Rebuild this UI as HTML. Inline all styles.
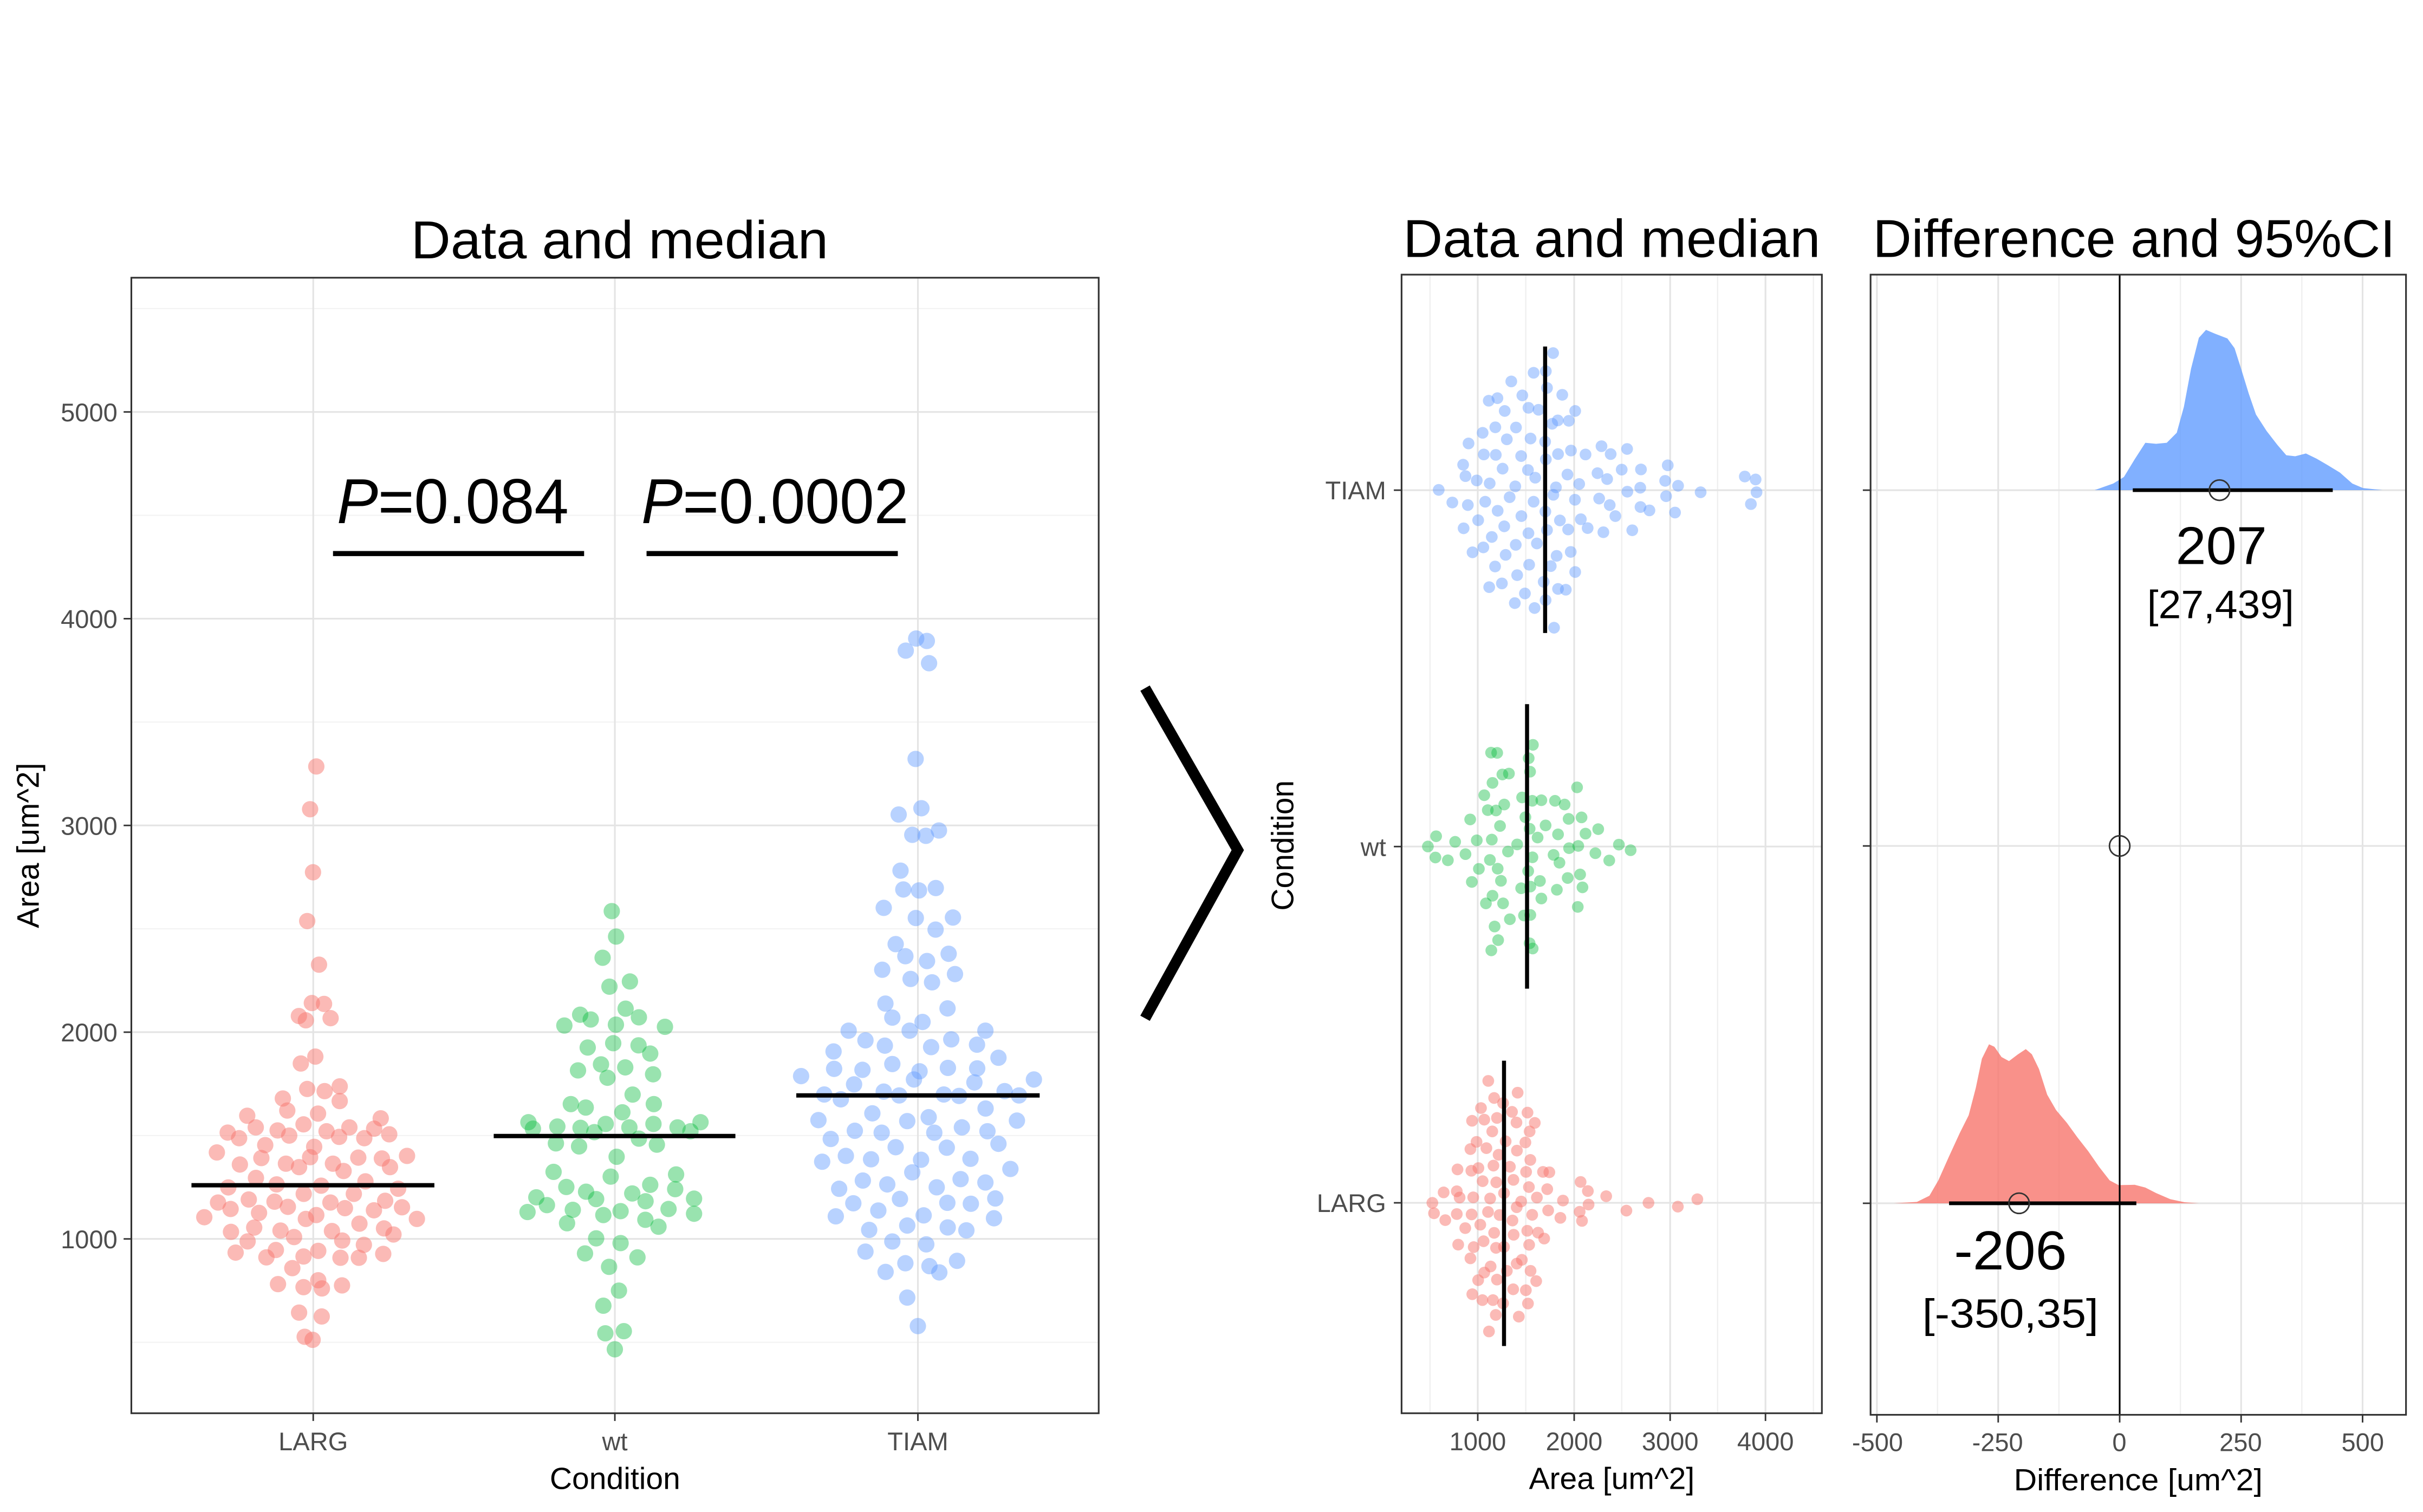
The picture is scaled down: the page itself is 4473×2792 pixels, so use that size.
<!DOCTYPE html>
<html><head><meta charset="utf-8"><style>
html,body{margin:0;padding:0;background:#fff;width:4473px;height:2792px;overflow:hidden}
svg{display:block}
text{font-family:"Liberation Sans",Arial,sans-serif}
.tk{font-size:16.5px;fill:#4d4d4d}
.at{font-size:20px;fill:#000}
.ti{font-size:34.5px;fill:#000}
</style></head><body>
<svg width="4473" height="2792" viewBox="0 0 1568 980" preserveAspectRatio="none">
<defs>
<ellipse id="e5" rx="42.3" ry="18.9"/>
<ellipse id="e6" rx="45.6" ry="18.9"/>
<ellipse id="e7" rx="43.9" ry="16.9"/>
<ellipse id="e8" rx="25" ry="29.8"/>
<ellipse id="e9" rx="25" ry="31.4"/>
<ellipse id="e10" rx="25" ry="30.9"/>
</defs>
<rect x="0" y="0" width="1568" height="980" fill="#fff"/>

<!-- ================= LEFT PANEL ================= -->
<text class="ti" x="266" y="167.5" textLength="270" lengthAdjust="spacingAndGlyphs">Data and median</text>
<g stroke="#f2f2f2" stroke-width="0.7">
<line x1="85" x2="711" y1="200" y2="200"/><line x1="85" x2="711" y1="334" y2="334"/><line x1="85" x2="711" y1="468" y2="468"/>
<line x1="85" x2="711" y1="602" y2="602"/><line x1="85" x2="711" y1="736" y2="736"/><line x1="85" x2="711" y1="870" y2="870"/>
</g>
<g stroke="#e4e4e4" stroke-width="1.1">
<line x1="85" x2="711" y1="267" y2="267"/><line x1="85" x2="711" y1="401" y2="401"/><line x1="85" x2="711" y1="535" y2="535"/>
<line x1="85" x2="711" y1="669" y2="669"/><line x1="85" x2="711" y1="803" y2="803"/>
<line x1="202.7" x2="202.7" y1="180" y2="916"/><line x1="397.9" x2="397.9" y1="180" y2="916"/><line x1="594" x2="594" y1="180" y2="916"/>
</g>

<g transform="matrix(0.12519 0 0 0.27982 105.16 473.85)" fill="#F8766D" fill-opacity="0.5">
<use href="#e5" x="795" y="82"/><use href="#e5" x="763" y="181"/><use href="#e5" x="778" y="327"/><use href="#e5" x="748" y="440"/><use href="#e5" x="809" y="541"/><use href="#e5" x="772" y="630"/><use href="#e5" x="835" y="632"/><use href="#e5" x="705" y="660"/><use href="#e5" x="741" y="670"/><use href="#e5" x="869" y="665"/><use href="#e5" x="715" y="770"/><use href="#e5" x="790" y="754"/><use href="#e5" x="748" y="829"/><use href="#e5" x="838" y="834"/><use href="#e5" x="916" y="823"/><use href="#e5" x="916" y="857"/><use href="#e5" x="622" y="851"/><use href="#e5" x="645" y="879"/><use href="#e5" x="804" y="886"/><use href="#e5" x="438" y="891"/><use href="#e5" x="482" y="918"/><use href="#e5" x="337" y="930"/><use href="#e5" x="396" y="943"/><use href="#e5" x="595" y="925"/><use href="#e5" x="655" y="937"/><use href="#e5" x="729" y="911"/><use href="#e5" x="848" y="927"/><use href="#e5" x="913" y="940"/><use href="#e5" x="966" y="918"/><use href="#e5" x="1043" y="943"/><use href="#e5" x="1094" y="921"/><use href="#e5" x="1128" y="897"/><use href="#e5" x="1172" y="934"/><use href="#e5" x="281" y="976"/><use href="#e5" x="531" y="959"/><use href="#e5" x="511" y="989"/><use href="#e5" x="784" y="963"/><use href="#e5" x="763" y="987"/><use href="#e5" x="400" y="1004"/><use href="#e5" x="638" y="1002"/><use href="#e5" x="706" y="1010"/><use href="#e5" x="881" y="1002"/><use href="#e5" x="936" y="1019"/><use href="#e5" x="1012" y="988"/><use href="#e5" x="1134" y="990"/><use href="#e5" x="1176" y="1010"/><use href="#e5" x="1264" y="984"/><use href="#e5" x="483" y="1035"/><use href="#e5" x="340" y="1057"/><use href="#e5" x="590" y="1050"/><use href="#e5" x="820" y="1053"/><use href="#e5" x="1049" y="1043"/><use href="#e5" x="1218" y="1060"/><use href="#e5" x="989" y="1072"/><use href="#e5" x="730" y="1072"/><use href="#e5" x="287" y="1092"/><use href="#e5" x="352" y="1107"/><use href="#e5" x="446" y="1085"/><use href="#e5" x="579" y="1090"/><use href="#e5" x="648" y="1102"/><use href="#e5" x="868" y="1092"/><use href="#e5" x="943" y="1105"/><use href="#e5" x="1093" y="1110"/><use href="#e5" x="1151" y="1088"/><use href="#e5" x="1238" y="1103"/><use href="#e5" x="216" y="1126"/><use href="#e5" x="499" y="1116"/><use href="#e5" x="741" y="1130"/><use href="#e5" x="795" y="1121"/><use href="#e5" x="1315" y="1130"/><use href="#e5" x="354" y="1160"/><use href="#e5" x="474" y="1150"/><use href="#e5" x="610" y="1157"/><use href="#e5" x="680" y="1172"/><use href="#e5" x="876" y="1158"/><use href="#e5" x="929" y="1180"/><use href="#e5" x="1018" y="1141"/><use href="#e5" x="1145" y="1152"/><use href="#e5" x="1194" y="1166"/><use href="#e5" x="440" y="1182"/><use href="#e5" x="378" y="1208"/><use href="#e5" x="586" y="1202"/><use href="#e5" x="537" y="1219"/><use href="#e5" x="729" y="1217"/><use href="#e5" x="805" y="1204"/><use href="#e5" x="920" y="1220"/><use href="#e5" x="1015" y="1220"/><use href="#e5" x="1041" y="1190"/><use href="#e5" x="1141" y="1211"/><use href="#e5" x="671" y="1244"/><use href="#e5" x="597" y="1281"/><use href="#e5" x="729" y="1288"/><use href="#e5" x="805" y="1272"/><use href="#e5" x="824" y="1291"/><use href="#e5" x="928" y="1284"/><use href="#e5" x="706" y="1347"/><use href="#e5" x="823" y="1356"/><use href="#e5" x="735" y="1403"/><use href="#e5" x="776" y="1410"/>
</g>

<g transform="matrix(0.11625 0 0 0.27982 308.48 473.85)" fill="#00BA38" fill-opacity="0.4">
<use href="#e6" x="752" y="417"/><use href="#e6" x="776" y="476"/><use href="#e6" x="701" y="525"/><use href="#e6" x="739" y="592"/><use href="#e6" x="853" y="580"/><use href="#e6" x="829" y="643"/><use href="#e6" x="576" y="657"/><use href="#e6" x="635" y="668"/><use href="#e6" x="488" y="682"/><use href="#e6" x="775" y="680"/><use href="#e6" x="903" y="663"/><use href="#e6" x="1048" y="685"/><use href="#e6" x="618" y="733"/><use href="#e6" x="760" y="723"/><use href="#e6" x="901" y="728"/><use href="#e6" x="966" y="747"/><use href="#e6" x="692" y="772"/><use href="#e6" x="728" y="803"/><use href="#e6" x="564" y="786"/><use href="#e6" x="827" y="779"/><use href="#e6" x="982" y="795"/><use href="#e6" x="868" y="842"/><use href="#e6" x="524" y="864"/><use href="#e6" x="607" y="872"/><use href="#e6" x="811" y="883"/><use href="#e6" x="986" y="864"/><use href="#e6" x="288" y="906"/><use href="#e6" x="313" y="921"/><use href="#e6" x="449" y="916"/><use href="#e6" x="578" y="919"/><use href="#e6" x="655" y="929"/><use href="#e6" x="718" y="910"/><use href="#e6" x="850" y="918"/><use href="#e6" x="984" y="910"/><use href="#e6" x="1118" y="918"/><use href="#e6" x="1190" y="927"/><use href="#e6" x="1246" y="906"/><use href="#e6" x="441" y="955"/><use href="#e6" x="570" y="962"/><use href="#e6" x="903" y="944"/><use href="#e6" x="1003" y="958"/><use href="#e6" x="779" y="986"/><use href="#e6" x="428" y="1021"/><use href="#e6" x="746" y="1032"/><use href="#e6" x="1110" y="1027"/><use href="#e6" x="499" y="1056"/><use href="#e6" x="609" y="1067"/><use href="#e6" x="665" y="1084"/><use href="#e6" x="866" y="1071"/><use href="#e6" x="966" y="1051"/><use href="#e6" x="1105" y="1061"/><use href="#e6" x="332" y="1080"/><use href="#e6" x="391" y="1098"/><use href="#e6" x="283" y="1114"/><use href="#e6" x="535" y="1109"/><use href="#e6" x="940" y="1089"/><use href="#e6" x="1210" y="1083"/><use href="#e6" x="503" y="1140"/><use href="#e6" x="705" y="1121"/><use href="#e6" x="801" y="1112"/><use href="#e6" x="939" y="1132"/><use href="#e6" x="1068" y="1107"/><use href="#e6" x="1012" y="1148"/><use href="#e6" x="1210" y="1118"/><use href="#e6" x="665" y="1175"/><use href="#e6" x="801" y="1186"/><use href="#e6" x="603" y="1210"/><use href="#e6" x="895" y="1219"/><use href="#e6" x="737" y="1241"/><use href="#e6" x="792" y="1296"/><use href="#e6" x="705" y="1331"/><use href="#e6" x="716" y="1395"/><use href="#e6" x="819" y="1390"/><use href="#e6" x="769" y="1432"/>
</g>

<g transform="matrix(0.12072 0 0 0.31339 497.77 396.63)" fill="#619CFF" fill-opacity="0.45">
<use href="#e7" x="788" y="55"/><use href="#e7" x="845" y="60"/><use href="#e7" x="732" y="80"/><use href="#e7" x="857" y="106"/><use href="#e7" x="785" y="304"/><use href="#e7" x="816" y="406"/><use href="#e7" x="694" y="419"/><use href="#e7" x="767" y="461"/><use href="#e7" x="840" y="463"/><use href="#e7" x="910" y="452"/><use href="#e7" x="704" y="535"/><use href="#e7" x="719" y="574"/><use href="#e7" x="803" y="576"/><use href="#e7" x="893" y="571"/><use href="#e7" x="614" y="612"/><use href="#e7" x="786" y="633"/><use href="#e7" x="985" y="632"/><use href="#e7" x="892" y="657"/><use href="#e7" x="678" y="687"/><use href="#e7" x="730" y="712"/><use href="#e7" x="846" y="722"/><use href="#e7" x="962" y="707"/><use href="#e7" x="606" y="740"/><use href="#e7" x="758" y="759"/><use href="#e7" x="873" y="766"/><use href="#e7" x="996" y="749"/><use href="#e7" x="623" y="810"/><use href="#e7" x="660" y="839"/><use href="#e7" x="822" y="848"/><use href="#e7" x="956" y="820"/><use href="#e7" x="426" y="866"/><use href="#e7" x="516" y="886"/><use href="#e7" x="753" y="866"/><use href="#e7" x="345" y="909"/><use href="#e7" x="620" y="897"/><use href="#e7" x="868" y="900"/><use href="#e7" x="976" y="884"/><use href="#e7" x="1114" y="895"/><use href="#e7" x="1159" y="866"/><use href="#e7" x="348" y="945"/><use href="#e7" x="500" y="947"/><use href="#e7" x="660" y="935"/><use href="#e7" x="806" y="950"/><use href="#e7" x="958" y="943"/><use href="#e7" x="1115" y="944"/><use href="#e7" x="1229" y="922"/><use href="#e7" x="171" y="960"/><use href="#e7" x="455" y="977"/><use href="#e7" x="776" y="967"/><use href="#e7" x="1100" y="973"/><use href="#e7" x="1419" y="967"/><use href="#e7" x="295" y="998"/><use href="#e7" x="384" y="1008"/><use href="#e7" x="614" y="992"/><use href="#e7" x="697" y="1000"/><use href="#e7" x="936" y="998"/><use href="#e7" x="1018" y="1001"/><use href="#e7" x="1262" y="991"/><use href="#e7" x="1339" y="1000"/><use href="#e7" x="264" y="1051"/><use href="#e7" x="553" y="1037"/><use href="#e7" x="740" y="1053"/><use href="#e7" x="855" y="1045"/><use href="#e7" x="1160" y="1027"/><use href="#e7" x="1328" y="1052"/><use href="#e7" x="330" y="1090"/><use href="#e7" x="459" y="1073"/><use href="#e7" x="603" y="1077"/><use href="#e7" x="885" y="1077"/><use href="#e7" x="1033" y="1066"/><use href="#e7" x="1170" y="1074"/><use href="#e7" x="678" y="1107"/><use href="#e7" x="952" y="1108"/><use href="#e7" x="1229" y="1100"/><use href="#e7" x="284" y="1137"/><use href="#e7" x="411" y="1125"/><use href="#e7" x="546" y="1132"/><use href="#e7" x="814" y="1133"/><use href="#e7" x="767" y="1159"/><use href="#e7" x="1079" y="1131"/><use href="#e7" x="1293" y="1152"/><use href="#e7" x="375" y="1193"/><use href="#e7" x="502" y="1176"/><use href="#e7" x="633" y="1184"/><use href="#e7" x="898" y="1190"/><use href="#e7" x="1026" y="1173"/><use href="#e7" x="1159" y="1180"/><use href="#e7" x="451" y="1223"/><use href="#e7" x="701" y="1214"/><use href="#e7" x="955" y="1222"/><use href="#e7" x="1081" y="1224"/><use href="#e7" x="1212" y="1213"/><use href="#e7" x="357" y="1250"/><use href="#e7" x="585" y="1238"/><use href="#e7" x="828" y="1248"/><use href="#e7" x="536" y="1278"/><use href="#e7" x="740" y="1269"/><use href="#e7" x="957" y="1273"/><use href="#e7" x="1057" y="1279"/><use href="#e7" x="1205" y="1254"/><use href="#e7" x="660" y="1302"/><use href="#e7" x="842" y="1308"/><use href="#e7" x="516" y="1323"/><use href="#e7" x="624" y="1365"/><use href="#e7" x="730" y="1347"/><use href="#e7" x="859" y="1353"/><use href="#e7" x="912" y="1366"/><use href="#e7" x="1007" y="1342"/><use href="#e7" x="740" y="1418"/><use href="#e7" x="797" y="1477"/>
</g>

<g stroke="#000" stroke-width="2.8">
<line x1="123.9" x2="281.1" y1="768.2" y2="768.2"/>
<line x1="319.5" x2="475.9" y1="736.3" y2="736.3"/>
<line x1="515.3" x2="672.8" y1="710" y2="710"/>
</g>
<rect x="85" y="180" width="626" height="736" fill="none" stroke="#333" stroke-width="1.1"/>
<g stroke="#333" stroke-width="1">
<line x1="80" x2="85" y1="267" y2="267"/><line x1="80" x2="85" y1="401" y2="401"/><line x1="80" x2="85" y1="535" y2="535"/><line x1="80" x2="85" y1="669" y2="669"/><line x1="80" x2="85" y1="803" y2="803"/>
<line x1="202.7" x2="202.7" y1="916" y2="921"/><line x1="397.9" x2="397.9" y1="916" y2="921"/><line x1="594" x2="594" y1="916" y2="921"/>
</g>
<g class="tk" text-anchor="end">
<text x="76" y="273">5000</text><text x="76" y="407">4000</text><text x="76" y="541">3000</text><text x="76" y="675">2000</text><text x="76" y="809">1000</text>
</g>
<g class="tk" text-anchor="middle">
<text x="202.7" y="940">LARG</text><text x="397.9" y="940">wt</text><text x="594" y="940">TIAM</text>
</g>
<text class="at" x="398" y="965" text-anchor="middle">Condition</text>
<text class="at" transform="translate(25,548) rotate(-90)" text-anchor="middle">Area [um^2]</text>

<text x="218" y="339" font-size="41" textLength="150" lengthAdjust="spacingAndGlyphs"><tspan font-style="italic">P</tspan>=0.084</text>
<text x="415" y="339" font-size="41" textLength="173" lengthAdjust="spacingAndGlyphs"><tspan font-style="italic">P</tspan>=0.0002</text>
<line x1="215.5" x2="378" y1="358.8" y2="358.8" stroke="#000" stroke-width="3.3"/>
<line x1="418.4" x2="581" y1="358.8" y2="358.8" stroke="#000" stroke-width="3.3"/>

<!-- chevron -->
<polyline points="741,446 801,551 741,660" fill="none" stroke="#000" stroke-width="7" stroke-linejoin="miter" stroke-miterlimit="10"/>

<!-- ================= MIDDLE PANEL ================= -->
<text class="ti" x="908" y="166.5" textLength="270" lengthAdjust="spacingAndGlyphs">Data and median</text>
<g stroke="#efefef" stroke-width="0.8">
<line y1="178" y2="916" x1="925.4" x2="925.4"/><line y1="178" y2="916" x1="987.4" x2="987.4"/><line y1="178" y2="916" x1="1049.5" x2="1049.5"/><line y1="178" y2="916" x1="1111.5" x2="1111.5"/><line y1="178" y2="916" x1="1173.5" x2="1173.5"/>
</g>
<g stroke="#e4e4e4" stroke-width="1.1">
<line y1="178" y2="916" x1="956.3" x2="956.3"/><line y1="178" y2="916" x1="1018.7" x2="1018.7"/><line y1="178" y2="916" x1="1080.8" x2="1080.8"/><line y1="178" y2="916" x1="1142.5" x2="1142.5"/>
<line x1="907" x2="1179" y1="317.7" y2="317.7"/><line x1="907" x2="1179" y1="548.7" y2="548.7"/><line x1="907" x2="1179" y1="779.6" y2="779.6"/>
</g>

<g transform="matrix(0.15202 0 0 0.1276 911.42 217.62)" fill="#619CFF" fill-opacity="0.45">
<use href="#e8" x="616" y="88"/><use href="#e8" x="533" y="188"/><use href="#e8" x="585" y="180"/><use href="#e8" x="438" y="232"/><use href="#e8" x="590" y="265"/><use href="#e8" x="485" y="303"/><use href="#e8" x="655" y="300"/><use href="#e8" x="342" y="330"/><use href="#e8" x="379" y="317"/><use href="#e8" x="410" y="382"/><use href="#e8" x="511" y="366"/><use href="#e8" x="554" y="376"/><use href="#e8" x="710" y="382"/><use href="#e8" x="612" y="447"/><use href="#e8" x="636" y="430"/><use href="#e8" x="683" y="432"/><use href="#e8" x="316" y="493"/><use href="#e8" x="370" y="465"/><use href="#e8" x="458" y="466"/><use href="#e8" x="419" y="526"/><use href="#e8" x="520" y="522"/><use href="#e8" x="582" y="538"/><use href="#e8" x="256" y="547"/><use href="#e8" x="822" y="561"/><use href="#e8" x="931" y="575"/><use href="#e8" x="321" y="603"/><use href="#e8" x="372" y="605"/><use href="#e8" x="480" y="611"/><use href="#e8" x="585" y="628"/><use href="#e8" x="637" y="601"/><use href="#e8" x="692" y="583"/><use href="#e8" x="754" y="603"/><use href="#e8" x="861" y="601"/><use href="#e8" x="233" y="655"/><use href="#e8" x="401" y="675"/><use href="#e8" x="509" y="682"/><use href="#e8" x="1104" y="658"/><use href="#e8" x="243" y="713"/><use href="#e8" x="291" y="735"/><use href="#e8" x="346" y="750"/><use href="#e8" x="540" y="721"/><use href="#e8" x="677" y="705"/><use href="#e8" x="805" y="698"/><use href="#e8" x="846" y="728"/><use href="#e8" x="908" y="680"/><use href="#e8" x="990" y="679"/><use href="#e8" x="1432" y="715"/><use href="#e8" x="1478" y="730"/><use href="#e8" x="129" y="783"/><use href="#e8" x="455" y="765"/><use href="#e8" x="628" y="770"/><use href="#e8" x="727" y="753"/><use href="#e8" x="1093" y="737"/><use href="#e8" x="1148" y="762"/><use href="#e8" x="932" y="792"/><use href="#e8" x="987" y="772"/><use href="#e8" x="1244" y="795"/><use href="#e8" x="1482" y="795"/><use href="#e8" x="187" y="847"/><use href="#e8" x="253" y="860"/><use href="#e8" x="327" y="843"/><use href="#e8" x="431" y="820"/><use href="#e8" x="533" y="843"/><use href="#e8" x="617" y="808"/><use href="#e8" x="709" y="833"/><use href="#e8" x="812" y="827"/><use href="#e8" x="857" y="860"/><use href="#e8" x="1097" y="815"/><use href="#e8" x="1458" y="855"/><use href="#e8" x="380" y="889"/><use href="#e8" x="583" y="893"/><use href="#e8" x="881" y="916"/><use href="#e8" x="988" y="870"/><use href="#e8" x="1026" y="887"/><use href="#e8" x="1135" y="898"/><use href="#e8" x="297" y="937"/><use href="#e8" x="481" y="916"/><use href="#e8" x="645" y="938"/><use href="#e8" x="734" y="932"/><use href="#e8" x="235" y="978"/><use href="#e8" x="408" y="968"/><use href="#e8" x="511" y="1003"/><use href="#e8" x="590" y="987"/><use href="#e8" x="680" y="984"/><use href="#e8" x="763" y="977"/><use href="#e8" x="830" y="998"/><use href="#e8" x="953" y="988"/><use href="#e8" x="355" y="1022"/><use href="#e8" x="547" y="1055"/><use href="#e8" x="319" y="1075"/><use href="#e8" x="273" y="1100"/><use href="#e8" x="457" y="1062"/><use href="#e8" x="414" y="1113"/><use href="#e8" x="631" y="1118"/><use href="#e8" x="691" y="1098"/><use href="#e8" x="369" y="1172"/><use href="#e8" x="514" y="1163"/><use href="#e8" x="606" y="1170"/><use href="#e8" x="710" y="1200"/><use href="#e8" x="463" y="1216"/><use href="#e8" x="344" y="1277"/><use href="#e8" x="398" y="1258"/><use href="#e8" x="576" y="1250"/><use href="#e8" x="637" y="1286"/><use href="#e8" x="670" y="1290"/><use href="#e8" x="496" y="1309"/><use href="#e8" x="453" y="1358"/><use href="#e8" x="537" y="1383"/><use href="#e8" x="584" y="1343"/><use href="#e8" x="620" y="1483"/>
</g>

<g transform="matrix(0.15202 0 0 0.12088 911.42 452.79)" fill="#00BA38" fill-opacity="0.4">
<use href="#e9" x="530" y="248"/><use href="#e9" x="352" y="290"/><use href="#e9" x="378" y="291"/><use href="#e9" x="512" y="320"/><use href="#e9" x="518" y="392"/><use href="#e9" x="400" y="407"/><use href="#e9" x="428" y="402"/><use href="#e9" x="358" y="452"/><use href="#e9" x="718" y="476"/><use href="#e9" x="323" y="518"/><use href="#e9" x="484" y="530"/><use href="#e9" x="527" y="548"/><use href="#e9" x="566" y="545"/><use href="#e9" x="624" y="548"/><use href="#e9" x="665" y="568"/><use href="#e9" x="338" y="598"/><use href="#e9" x="373" y="600"/><use href="#e9" x="408" y="568"/><use href="#e9" x="498" y="636"/><use href="#e9" x="263" y="648"/><use href="#e9" x="682" y="645"/><use href="#e9" x="737" y="637"/><use href="#e9" x="390" y="683"/><use href="#e9" x="516" y="698"/><use href="#e9" x="584" y="680"/><use href="#e9" x="118" y="738"/><use href="#e9" x="199" y="768"/><use href="#e9" x="291" y="760"/><use href="#e9" x="355" y="756"/><use href="#e9" x="550" y="745"/><use href="#e9" x="637" y="728"/><use href="#e9" x="754" y="724"/><use href="#e9" x="808" y="700"/><use href="#e9" x="83" y="793"/><use href="#e9" x="463" y="782"/><use href="#e9" x="684" y="802"/><use href="#e9" x="723" y="790"/><use href="#e9" x="896" y="783"/><use href="#e9" x="946" y="813"/><use href="#e9" x="115" y="852"/><use href="#e9" x="168" y="867"/><use href="#e9" x="243" y="834"/><use href="#e9" x="424" y="820"/><use href="#e9" x="528" y="851"/><use href="#e9" x="618" y="838"/><use href="#e9" x="796" y="829"/><use href="#e9" x="855" y="868"/><use href="#e9" x="347" y="865"/><use href="#e9" x="643" y="880"/><use href="#e9" x="300" y="913"/><use href="#e9" x="380" y="912"/><use href="#e9" x="510" y="925"/><use href="#e9" x="270" y="983"/><use href="#e9" x="394" y="977"/><use href="#e9" x="560" y="978"/><use href="#e9" x="678" y="962"/><use href="#e9" x="731" y="943"/><use href="#e9" x="480" y="1017"/><use href="#e9" x="519" y="1008"/><use href="#e9" x="632" y="1025"/><use href="#e9" x="741" y="1012"/><use href="#e9" x="358" y="1057"/><use href="#e9" x="330" y="1098"/><use href="#e9" x="403" y="1098"/><use href="#e9" x="566" y="1072"/><use href="#e9" x="721" y="1117"/><use href="#e9" x="432" y="1183"/><use href="#e9" x="492" y="1163"/><use href="#e9" x="519" y="1160"/><use href="#e9" x="367" y="1222"/><use href="#e9" x="382" y="1295"/><use href="#e9" x="516" y="1312"/><use href="#e9" x="529" y="1340"/><use href="#e9" x="353" y="1350"/>
</g>

<g transform="matrix(0.15202 0 0 0.12312 911.42 684.45)" fill="#F8766D" fill-opacity="0.5">
<use href="#e10" x="340" y="131"/><use href="#e10" x="465" y="193"/><use href="#e10" x="365" y="221"/><use href="#e10" x="403" y="248"/><use href="#e10" x="309" y="274"/><use href="#e10" x="441" y="294"/><use href="#e10" x="507" y="298"/><use href="#e10" x="271" y="341"/><use href="#e10" x="323" y="335"/><use href="#e10" x="377" y="326"/><use href="#e10" x="460" y="350"/><use href="#e10" x="538" y="352"/><use href="#e10" x="357" y="397"/><use href="#e10" x="516" y="397"/><use href="#e10" x="290" y="452"/><use href="#e10" x="414" y="449"/><use href="#e10" x="498" y="455"/><use href="#e10" x="264" y="490"/><use href="#e10" x="332" y="485"/><use href="#e10" x="462" y="498"/><use href="#e10" x="384" y="520"/><use href="#e10" x="519" y="547"/><use href="#e10" x="209" y="597"/><use href="#e10" x="268" y="604"/><use href="#e10" x="298" y="590"/><use href="#e10" x="362" y="577"/><use href="#e10" x="432" y="583"/><use href="#e10" x="501" y="610"/><use href="#e10" x="573" y="610"/><use href="#e10" x="600" y="612"/><use href="#e10" x="316" y="659"/><use href="#e10" x="374" y="665"/><use href="#e10" x="447" y="652"/><use href="#e10" x="733" y="663"/><use href="#e10" x="150" y="718"/><use href="#e10" x="206" y="712"/><use href="#e10" x="218" y="745"/><use href="#e10" x="276" y="744"/><use href="#e10" x="348" y="750"/><use href="#e10" x="407" y="722"/><use href="#e10" x="513" y="690"/><use href="#e10" x="591" y="701"/><use href="#e10" x="547" y="745"/><use href="#e10" x="764" y="711"/><use href="#e10" x="842" y="738"/><use href="#e10" x="102" y="773"/><use href="#e10" x="480" y="766"/><use href="#e10" x="461" y="796"/><use href="#e10" x="658" y="761"/><use href="#e10" x="767" y="782"/><use href="#e10" x="1022" y="773"/><use href="#e10" x="1147" y="793"/><use href="#e10" x="1230" y="754"/><use href="#e10" x="109" y="828"/><use href="#e10" x="157" y="864"/><use href="#e10" x="206" y="832"/><use href="#e10" x="269" y="834"/><use href="#e10" x="339" y="821"/><use href="#e10" x="388" y="837"/><use href="#e10" x="443" y="866"/><use href="#e10" x="527" y="836"/><use href="#e10" x="595" y="813"/><use href="#e10" x="647" y="852"/><use href="#e10" x="729" y="820"/><use href="#e10" x="739" y="868"/><use href="#e10" x="928" y="814"/><use href="#e10" x="242" y="906"/><use href="#e10" x="306" y="888"/><use href="#e10" x="365" y="931"/><use href="#e10" x="448" y="941"/><use href="#e10" x="506" y="920"/><use href="#e10" x="552" y="930"/><use href="#e10" x="578" y="961"/><use href="#e10" x="212" y="993"/><use href="#e10" x="278" y="1006"/><use href="#e10" x="320" y="975"/><use href="#e10" x="373" y="1010"/><use href="#e10" x="407" y="1005"/><use href="#e10" x="514" y="994"/><use href="#e10" x="264" y="1065"/><use href="#e10" x="483" y="1073"/><use href="#e10" x="461" y="1093"/><use href="#e10" x="350" y="1108"/><use href="#e10" x="323" y="1140"/><use href="#e10" x="419" y="1131"/><use href="#e10" x="520" y="1131"/><use href="#e10" x="297" y="1180"/><use href="#e10" x="377" y="1177"/><use href="#e10" x="544" y="1185"/><use href="#e10" x="272" y="1254"/><use href="#e10" x="446" y="1228"/><use href="#e10" x="500" y="1233"/><use href="#e10" x="315" y="1285"/><use href="#e10" x="360" y="1285"/><use href="#e10" x="403" y="1302"/><use href="#e10" x="509" y="1303"/><use href="#e10" x="372" y="1363"/><use href="#e10" x="470" y="1372"/><use href="#e10" x="343" y="1450"/>
</g>

<g stroke="#000" stroke-width="2.6">
<line x1="999.9" x2="999.9" y1="224.6" y2="410.3"/>
<line x1="988.2" x2="988.2" y1="456.4" y2="640.8"/>
<line x1="973.3" x2="973.3" y1="687.5" y2="872.4"/>
</g>
<rect x="907" y="178" width="272" height="738" fill="none" stroke="#333" stroke-width="1.1"/>
<g stroke="#333" stroke-width="1">
<line x1="902" x2="907" y1="317.7" y2="317.7"/><line x1="902" x2="907" y1="548.7" y2="548.7"/><line x1="902" x2="907" y1="779.6" y2="779.6"/>
<line x1="956.3" x2="956.3" y1="916" y2="921"/><line x1="1018.7" x2="1018.7" y1="916" y2="921"/><line x1="1080.8" x2="1080.8" y1="916" y2="921"/><line x1="1142.5" x2="1142.5" y1="916" y2="921"/>
</g>
<g class="tk" text-anchor="end">
<text x="897" y="323.7">TIAM</text><text x="897" y="554.7">wt</text><text x="897" y="785.6">LARG</text>
</g>
<g class="tk" text-anchor="middle">
<text x="956.3" y="940">1000</text><text x="1018.7" y="940">2000</text><text x="1080.8" y="940">3000</text><text x="1142.5" y="940">4000</text>
</g>
<text class="at" x="1043" y="965" text-anchor="middle">Area [um^2]</text>
<text class="at" transform="translate(837,548) rotate(-90)" text-anchor="middle">Condition</text>

<!-- ================= RIGHT PANEL ================= -->
<text class="ti" x="1212" y="166.5" textLength="338" lengthAdjust="spacingAndGlyphs">Difference and 95%CI</text>
<g stroke="#efefef" stroke-width="0.8">
<line y1="178" y2="917" x1="1253.8" x2="1253.8"/><line y1="178" y2="917" x1="1332.4" x2="1332.4"/><line y1="178" y2="917" x1="1411" x2="1411"/><line y1="178" y2="917" x1="1489.6" x2="1489.6"/>
</g>
<g stroke="#e4e4e4" stroke-width="1.1">
<line y1="178" y2="917" x1="1214.6" x2="1214.6"/><line y1="178" y2="917" x1="1293.1" x2="1293.1"/><line y1="178" y2="917" x1="1450.3" x2="1450.3"/><line y1="178" y2="917" x1="1528.9" x2="1528.9"/>
<line x1="1210.5" x2="1557" y1="317.7" y2="317.7"/><line x1="1210.5" x2="1557" y1="548.3" y2="548.3"/><line x1="1210.5" x2="1557" y1="779.9" y2="779.9"/>
</g>

<path transform="matrix(0.23094 0 0 0.22385 1205.87 196.56)" fill="#619CFF" fill-opacity="0.8"
 d="M648,541 L700,522 L730,503 L760,452 L790,404 L820,407 L850,404 L878,375 L898,300 L918,190 L940,100 L960,77 L985,88 L1020,102 L1040,130 L1060,195 L1080,262 L1100,322 L1130,370 L1160,410 L1185,440 L1210,443 L1240,435 L1270,450 L1300,468 L1335,490 L1370,522 L1400,535 L1455,541 Z"/>
<path transform="matrix(0.23094 0 0 0.22206 1205.87 631.8)" fill="#F8766D" fill-opacity="0.8"
 d="M85,667 L150,663 L185,645 L210,600 L240,530 L270,462 L295,410 L315,330 L332,245 L352,203 L367,210 L387,240 L408,252 L432,233 L455,217 L472,232 L492,275 L515,350 L540,395 L570,432 L600,475 L630,515 L660,560 L690,600 L715,614 L760,613 L790,621 L820,637 L860,655 L900,664 L940,667 Z"/>

<line x1="1371.7" x2="1371.7" y1="178" y2="917" stroke="#000" stroke-width="1.1"/>
<line x1="1380.2" x2="1509.6" y1="317.7" y2="317.7" stroke="#000" stroke-width="2.4"/>
<line x1="1261.3" x2="1382.5" y1="779.9" y2="779.9" stroke="#000" stroke-width="2.4"/>
<circle cx="1436.3" cy="317.7" r="6.6" fill="none" stroke="#333" stroke-width="1"/>
<circle cx="1371.7" cy="548.3" r="6.6" fill="none" stroke="#333" stroke-width="1"/>
<circle cx="1306.6" cy="779.9" r="6.6" fill="none" stroke="#333" stroke-width="1"/>

<text x="1437.5" y="365.6" font-size="34.5" text-anchor="middle" textLength="59" lengthAdjust="spacingAndGlyphs">207</text>
<text x="1437" y="400.7" font-size="25.7" text-anchor="middle" textLength="95" lengthAdjust="spacingAndGlyphs">[27,439]</text>
<text x="1301" y="822.8" font-size="35.6" text-anchor="middle" textLength="73" lengthAdjust="spacingAndGlyphs">-206</text>
<text x="1301" y="860.5" font-size="26.4" text-anchor="middle" textLength="114" lengthAdjust="spacingAndGlyphs">[-350,35]</text>

<rect x="1210.5" y="178" width="346.5" height="739" fill="none" stroke="#333" stroke-width="1.1"/>
<g stroke="#333" stroke-width="1">
<line x1="1205.5" x2="1210.5" y1="317.7" y2="317.7"/><line x1="1205.5" x2="1210.5" y1="548.3" y2="548.3"/><line x1="1205.5" x2="1210.5" y1="779.9" y2="779.9"/>
<line x1="1214.6" x2="1214.6" y1="917" y2="922"/><line x1="1293.1" x2="1293.1" y1="917" y2="922"/><line x1="1371.7" x2="1371.7" y1="917" y2="922"/><line x1="1450.3" x2="1450.3" y1="917" y2="922"/><line x1="1528.9" x2="1528.9" y1="917" y2="922"/>
</g>
<g class="tk" text-anchor="middle">
<text x="1215" y="940.5">-500</text><text x="1292.7" y="940.5">-250</text><text x="1371.5" y="940.5">0</text><text x="1450" y="940.5">250</text><text x="1529" y="940.5">500</text>
</g>
<text class="at" x="1383.7" y="966" text-anchor="middle" textLength="161" lengthAdjust="spacingAndGlyphs">Difference [um^2]</text>
</svg>
</body></html>
